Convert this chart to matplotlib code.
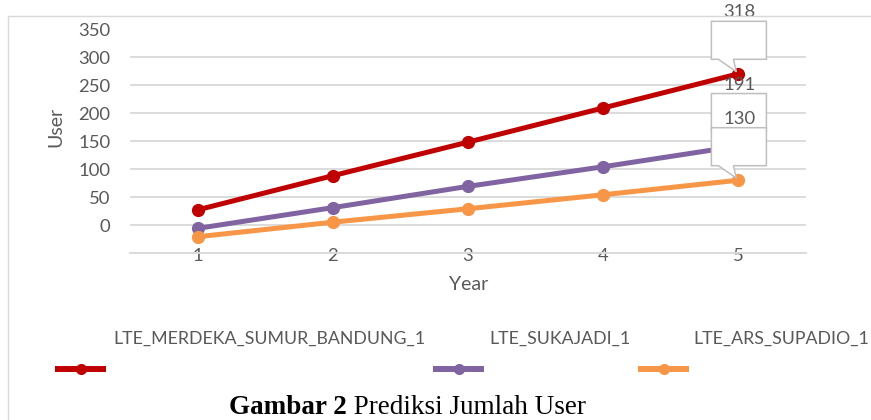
import matplotlib
matplotlib.use("Agg")
import matplotlib.pyplot as plt
from matplotlib.lines import Line2D
from matplotlib.patches import Polygon, Rectangle
import matplotlib.transforms as mtransforms

# ---- data ----
years = [1, 2, 3, 4, 5]
series_names = ["LTE_MERDEKA_SUMUR_BANDUNG_1", "LTE_SUKAJADI_1", "LTE_ARS_SUPADIO_1"]
merdeka = [27, 88, 148, 209, 270]
sukajadi = [-6, 31, 69, 104, 141]
supadio = [-21, 5, 29, 54, 80]
callout_labels = ["318", "191", "130"]
y_ticks = [-50, 0, 50, 100, 150, 200, 250, 300, 350]
y_tick_labels = ["", "0", "50", "100", "150", "200", "250", "300", "350"]
colors = ["#C00000", "#8064A2", "#F79646"]

W, H = 871, 420
fig = plt.figure(figsize=(W / 100, H / 100), dpi=100)
plt.rcParams["font.family"] = ["Lato", "DejaVu Sans"]
txt_color = "#595959"
grid_color = "#d9d9d9"

def fx(px):
    return px / W

def fy(py):
    return 1 - py / H

# outer chart border
fig.add_artist(Rectangle((fx(8), -0.2), 2, fy(16) + 0.2, transform=fig.transFigure,
                         fill=False, edgecolor=grid_color, lw=1.0))

ax = fig.add_axes([fx(130), fy(253), fx(806) - fx(130), fy(29) - fy(253)])
ax.set_xlim(0.5, 5.5)
ax.set_ylim(-50, 350)

all_series = [merdeka, sukajadi, supadio]
for vals, c in zip(all_series, colors):
    ax.plot(years, vals, color=c, lw=3.6, marker="o", ms=8.5, zorder=3,
            solid_capstyle="round")

# axes styling
ax.set_yticks(y_ticks)
ax.set_yticklabels(y_tick_labels)
ax.set_xticks(years)
ax.set_xticklabels([str(y) for y in years])
for s in ["top", "left", "right"]:
    ax.spines[s].set_visible(False)
ax.spines["bottom"].set_color(grid_color)
ax.spines["bottom"].set_linewidth(1.3)
ax.grid(axis="y", color=grid_color, lw=1.3)
ax.set_axisbelow(True)
ax.get_ygridlines()[-1].set_visible(False)
ax.tick_params(axis="y", length=0, pad=14, labelsize=13.3, labelcolor=txt_color)
ax.tick_params(axis="x", length=0, pad=2.5, labelsize=13.3, labelcolor=txt_color)
for lbl in ax.get_xticklabels():
    lbl.set_va("center")

ax.set_xlabel("Year", fontsize=14, color=txt_color)
ax.xaxis.set_label_coords((468.5 - 130) / 676, (253 - 284) / 224)
ax.xaxis.label.set_va("center")
ax.set_ylabel("User", fontsize=14, color=txt_color)
ax.yaxis.set_label_coords((56 - 130) / 676, (253 - 127) / 224)
ax.yaxis.label.set_va("center")

# callouts (offsets in inches, relative to data point; dpi=100 -> 1 px = 0.01 in)
def callout(x, y, label):
    tr = fig.dpi_scale_trans + mtransforms.ScaledTranslation(x, y, ax.transData)
    b0, b1 = 0.145, 0.525
    xl, xr = -0.27, 0.28
    verts = [(-0.02, 0.02), (-0.05, b0), (xr, b0), (xr, b1), (xl, b1), (xl, b0),
             (-0.20, b0)]
    ax.add_patch(Polygon(verts, closed=True, transform=tr, facecolor="white",
                         edgecolor="#bfbfbf", lw=1.1, zorder=5, clip_on=False))
    ax.text(0.01, 0.615, label, transform=tr, ha="center", va="center",
            fontsize=13.3, color=txt_color, zorder=6, clip_on=False)

for vals, lab in zip(all_series, callout_labels):
    callout(years[-1], vals[-1], lab)

# legend (manual, two-row layout as in reference)
leg_lines = [(55, 106), (433, 484), (638, 689)]
leg_text_x = [113, 489, 693]
for (x0, x1), tx, name, c in zip(leg_lines, leg_text_x, series_names, colors):
    fig.add_artist(Line2D([fx(x0), fx(x1)], [fy(369), fy(369)], transform=fig.transFigure,
                          color=c, lw=4.3, solid_capstyle="butt"))
    fig.add_artist(Line2D([fx((x0 + x1) / 2)], [fy(369)], transform=fig.transFigure,
                          color=c, marker="o", ms=7, lw=0))
    fig.text(fx(tx), fy(339), name, ha="left", va="center", fontsize=12.8, color=txt_color)

# caption
renderer = fig.canvas.get_renderer()
t1 = fig.text(fx(229), fy(413.5), "Gambar 2", ha="left", va="baseline", fontsize=19.5,
              fontweight="bold", family=["Liberation Serif", "DejaVu Serif"], color="black")
bb = t1.get_window_extent(renderer)
fig.text(bb.x1 / W, fy(413.5), " Prediksi Jumlah User", ha="left", va="baseline",
         fontsize=19.5, family=["Liberation Serif", "DejaVu Serif"], color="black")

fig.savefig("out.png", dpi=100)
